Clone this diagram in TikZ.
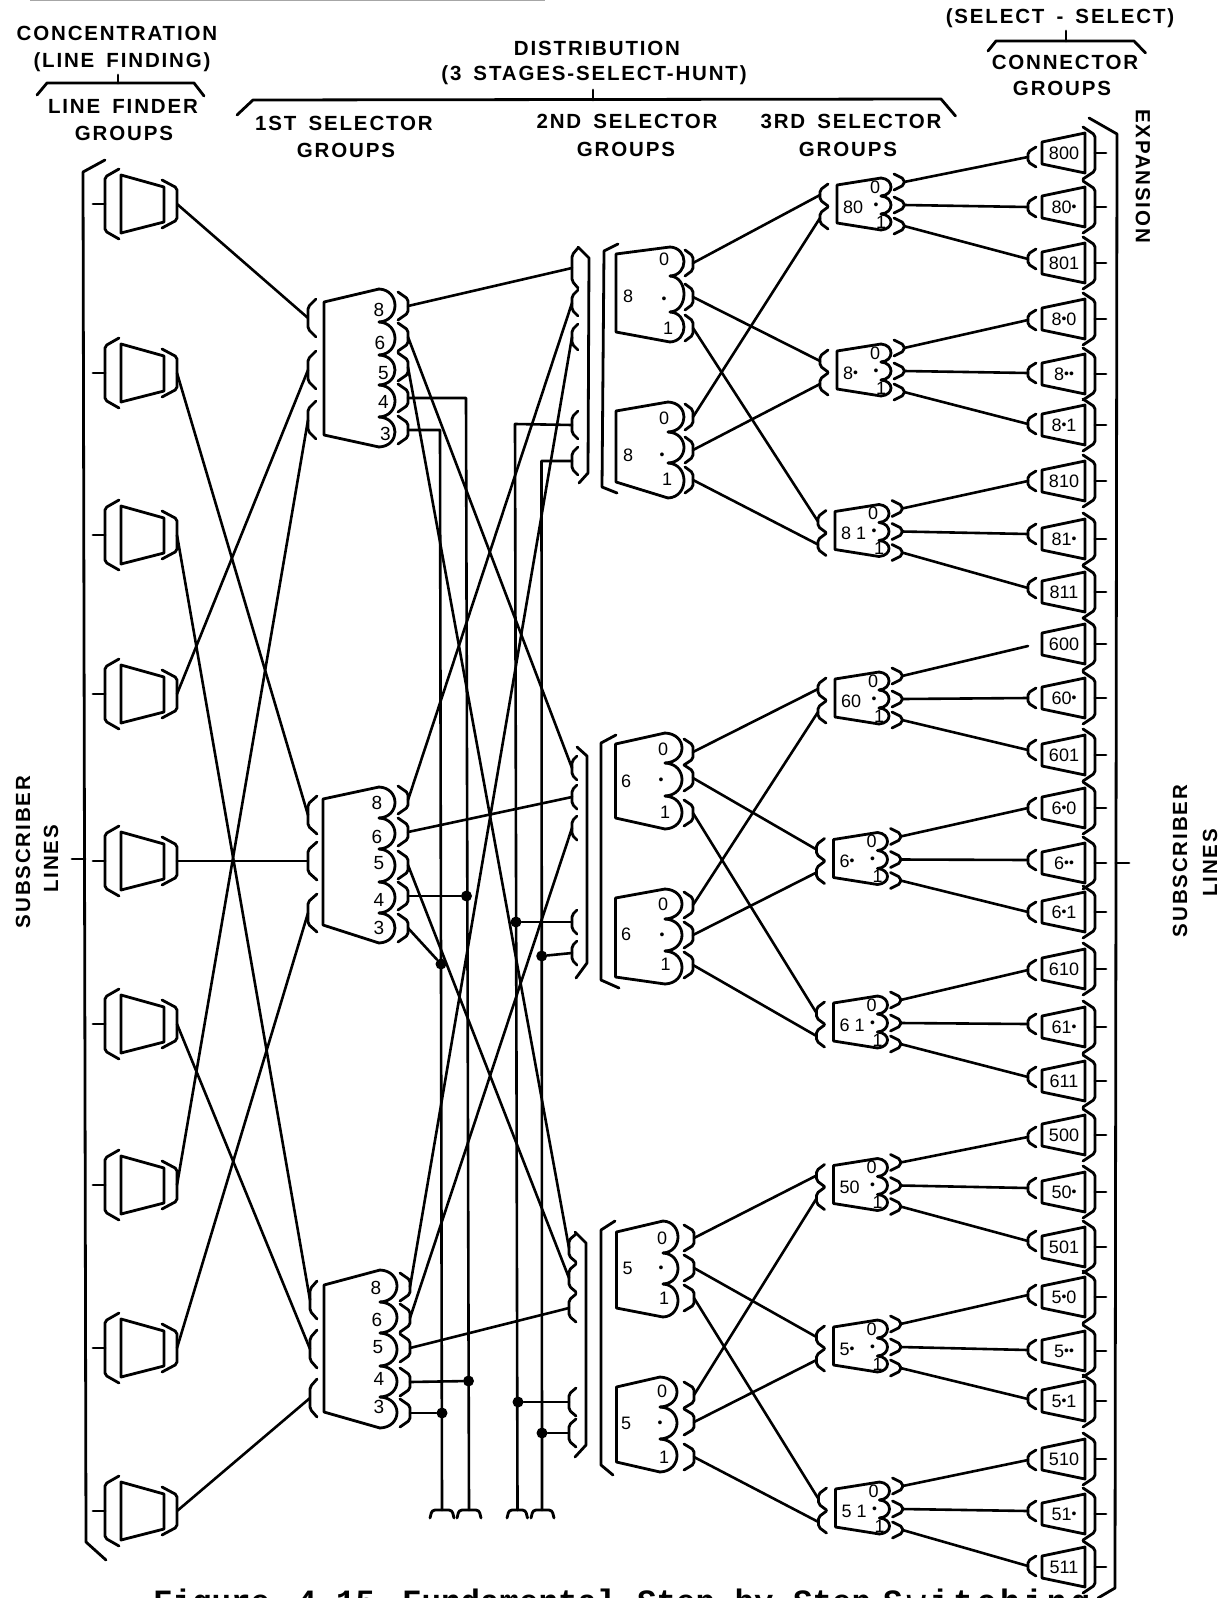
\documentclass[tikz,border=0pt]{standalone}
\usepackage{fontspec}
\setmainfont{Liberation Sans}
\newfontfamily\hdrf{Liberation Sans}[LetterSpace=9,WordSpace=1.6]
\newfontfamily\capf{Liberation Mono}
\newfontfamily\capw{Liberation Mono}[LetterSpace=12]
\newcommand\dt{\raisebox{0.1em}{\fontsize{14}{14}\selectfont•}}
\tikzset{
  ln/.style={line width=2.8pt,line join=round,line cap=round},
  wire/.style={line width=2.6pt,line cap=round,line join=round},
  big/.style={line width=2.8pt,line join=round,line cap=round},
  hdr/.style={inner sep=0pt,font=\hdrf\bfseries\fontsize{20.5}{24}\selectfont},
  lbl/.style={inner sep=0pt,font=\fontsize{19}{20}\selectfont},
  lblm/.style={inner sep=0pt,font=\fontsize{18}{20}\selectfont},
  lblc/.style={inner sep=0pt,font=\fontsize{18}{20}\selectfont},
  capn/.style={inner sep=0pt,anchor=base west,font=\capf\bfseries\fontsize{32.5}{36}\selectfont},
  capm/.style={inner sep=0pt,anchor=base west,font=\capw\bfseries\fontsize{32.5}{36}\selectfont},
  jdot/.style={circle,fill=black,inner sep=0pt,minimum size=11pt}
}
% bracket: name, spine x, tip x, centre y, half height at tips, half height at spine
\newcommand\brk[6]{%
  \coordinate (#1) at (#2,#4);
  \draw[ln,rounded corners=2pt] (#3,#4-#5)--(#2,#4-#6)--(#2,#4+#6)--(#3,#4+#5);
}
% line finder group
\newcommand\LF[2]{%
  \draw[ln] (121,#2-29)--(164,#2-17)--(164,#2+18)--(121,#2+29)--cycle;
  \brk{#1-a}{105}{119}{#2}{35}{27}
  \brk{#1-o}{177}{162}{#2}{24}{16}
  \coordinate (#1-s) at (93,#2);
  \draw[ln] (#1-s)--(#1-a);
}
% scalloped selector body: left, tl, bl, cusp x, bulge x, ctop, cbot, list of arcs
\newcommand\Body[8]{%
  \draw[ln] (#4,#6)--(#1,#2)--(#1,#3)--(#4,#7);
  \foreach \a/\b in {#8}{%
    \draw[ln] (#4,\a) .. controls ({(#4)+1.333*((#5)-(#4))},\a+1) and ({(#4)+1.333*((#5)-(#4))},\b-1) .. (#4,\b);
  }%
}
% third selector: name, left, yc, label
\newcommand\Third[4]{%
  \Body{#2}{#3-19}{#3+19}{#2+44}{#2+54}{#3-26}{#3+26}{#3-26/#3-8,#3-8/#3+10,#3+10/#3+26}
  \brk{#1-o1}{#2+67}{#2+57}{#3-22}{8}{3}
  \brk{#1-o2}{#2+67}{#2+57}{#3+1}{8}{3}
  \brk{#1-o3}{#2+67}{#2+57}{#3+22}{8}{3}
  \brk{#1-i1}{#2-17}{#2-9}{#3-9}{11}{5}
  \brk{#1-i2}{#2-17}{#2-9}{#3+14}{11}{5}
  \node[lblm,anchor=west] (#1-t) at (#2+6,#3+3) {#4};
  \node[lblm] (#1-t0) at (#2+38,#3-17) {0};
  \node[lblm] (#1-td) at (#2+39,#3+3) {\dt};
  \node[lblm] (#1-t1) at (#2+44,#3+18) {1};
}
% connector group: name, yc, label
\newcommand\ConnBody[3]{%
  \draw[ln] (1042,#2-11)--(1085,#2-20)--(1085,#2+20)--(1042,#2+11)--cycle;
  \node[lblc] (#1-t) at (1064,#2) {#3};
  \brk{#1-r}{1095}{1083}{#2}{26}{18}
  \coordinate (#1-s) at (1106,#2);
  \draw[ln] (#1-r)--(#1-s);
}
% name, yc, label, offset of the input bracket
\newcommand\Conn[4]{%
  \ConnBody{#1}{#2}{#3}
  \brk{#1-i}{1028}{1036}{#2+#4}{10}{5}
}
\begin{document}
\begin{tikzpicture}[x=1pt,y=-1pt]
\useasboundingbox (0,0) rectangle (1230,1598);
\clip (0,0) rectangle (1230,1598);
\fill[white] (0,0) rectangle (1230,1598);
% scan remnant at the top edge
\draw[line width=1.5pt,gray!70] (30,0.5)--(545,0.5);

% ---------- headings ----------
\node[hdr] (h1) at (117,33) {CONCENTRATION};
\node[hdr] (h2) at (122,62) {(LINE FINDING)};
\node[hdr] (h3) at (123,106) {LINE FINDER};
\node[hdr] (h4) at (124,133) {GROUPS};
\node[hdr] (h5) at (597,48) {DISTRIBUTION};
\node[hdr] (h6) at (594,75) {(3 STAGES-SELECT-HUNT)};
\node[hdr] (h7) at (344,123) {1ST SELECTOR};
\node[hdr] (h8) at (346,150) {GROUPS};
\node[hdr] (h9) at (627,121) {2ND SELECTOR};
\node[hdr] (h10) at (626,149) {GROUPS};
\node[hdr] (h11) at (851,121) {3RD SELECTOR};
\node[hdr] (h12) at (848,149) {GROUPS};
\node[hdr] (h13) at (1060,18) {(SELECT - SELECT)};
\node[hdr] (h14) at (1065,62) {CONNECTOR};
\node[hdr] (h15) at (1062,88) {GROUPS};
\node[hdr,rotate=-90] (h16) at (1143,176) {EXPANSION};
\node[hdr,rotate=90] (h17) at (23,852) {SUBSCRIBER};
\node[hdr,rotate=90] (h18) at (51,859) {LINES};
\node[hdr,rotate=90] (h19) at (1180,861) {SUBSCRIBER};
\node[hdr,rotate=90] (h20) at (1210,863) {LINES};
\node[capn] (cap1) at (153,1612) {Figure};
\node[capn] (cap2) at (297,1612) {4.15.};
\node[capn] (cap3) at (402,1612) {Fundamental};
\node[capn] (cap4) at (637,1612) {Step-by-Step};
\node[capm] (cap5) at (883,1612) {Switching};

% heading brackets
\draw[big] (37,95)--(47,83)--(194,83)--(204,96);
\draw[big] (118,75)--(118,83);
\draw[big] (237,115)--(253,100)--(941,99)--(955.5,116);
\draw[big] (593,90)--(593,100);
\draw[big] (988,51)--(996,41)--(1134,41)--(1145.5,53);
\draw[big] (1066,31)--(1066,41);
% outer brackets
\draw[big] (105,160)--(83,172)--(86,1542)--(106,1560);
\draw[big] (1089,118)--(1117,134)--(1115,1588)--(1098,1598);
\coordinate (subL) at (72,859);\coordinate (subLb) at (85,859);
\draw[big] (subL)--(subLb);
\coordinate (subR) at (1129,863);\coordinate (subRb) at (1116,863);
\draw[big] (subRb)--(subR);

% ---------- line finders ----------
\LF{lf1}{204}\LF{lf2}{373}\LF{lf3}{535}\LF{lf4}{694}\LF{lf5}{861}\LF{lf6}{1024}\LF{lf7}{1185}\LF{lf8}{1348}\LF{lf9}{1511}

% ---------- first selectors ----------
\Body{324}{302}{435}{379}{395}{289}{447}{289/322,322/355,355/385,385/417,417/447}
\foreach \n/\y in {8/306,6/337,5/367,4/398,3/430}{\brk{sa-\n}{408}{398}{\y}{14}{7}}
\foreach \n/\x/\y in {8/379/310,6/380/343,5/383.5/373,4/383.5/402,3/385.5/434}{\node[lbl] (sa-t\n) at (\x,\y) {\n};}
\foreach \n/\y in {1/318,2/370,3/420}{\brk{sa-i\n}{308}{316}{\y}{19}{11}}

\Body{323}{799}{925}{379}{395}{787}{943}{787/818,818/849,849/882,882/913,913/943}
\foreach \n/\y in {8/800,6/832,5/865,4/896,3/928}{\brk{sb-\n}{408}{398}{\y}{14}{7}}
\foreach \n/\x/\y in {8/377/803,6/377/837,5/379/863,4/379/900,3/379/928}{\node[lbl] (sb-t\n) at (\x,\y) {\n};}
\foreach \n/\y in {1/815,2/861,3/913}{\brk{sb-i\n}{308}{317}{\y}{19}{11}}

\Body{324}{1285}{1412}{380}{397}{1270}{1428}{1270/1302,1302/1333,1333/1366,1366/1397,1397/1428}
\foreach \n/\y in {8/1287,6/1318,5/1348,4/1382,3/1413}{\brk{sc-\n}{410}{400}{\y}{14}{7}}
\foreach \n/\x/\y in {8/376/1288,6/377/1320,5/378/1347,4/379/1379,3/379/1407}{\node[lbl] (sc-t\n) at (\x,\y) {\n};}
\foreach \n/\y in {1/1300,2/1349,3/1398}{\brk{sc-i\n}{310}{317}{\y}{19}{11}}

% ---------- second selector brackets ----------
\draw[big] (578,247)--(589,258)--(588,473)--(579,483);
\draw[big] (618,244)--(604,251)--(602,487)--(617,493);
\foreach \n/\y/\a/\b in {1/268/20/13,2/303/13/7,3/337/13/7,4/425/14/8,5/461/14/8}{\brk{g8-\n}{572}{578}{\y}{\a}{\b}}
\draw[big] (577,747)--(587,756)--(587,963)--(576,978);
\draw[big] (616,735)--(601,743)--(601,980)--(619,988);
\foreach \n/\y in {1/768,2/797,3/828,4/922,5/953}{\brk{g6-\n}{572}{577}{\y}{12}{7}}
\draw[big] (575,1232)--(586,1243)--(586,1445)--(575,1457);
\draw[big] (615,1221)--(601,1230)--(601,1465)--(613,1475);
\foreach \n/\y in {1/1248,2/1278,3/1308,4/1402,5/1433}{\brk{g5-\n}{569}{576}{\y}{14}{8}}

% ---------- second selectors ----------
\Body{616}{254}{332}{670}{684}{247}{342}{247/276,276/312,312/342}
\foreach \n/\y in {1/263,2/297,3/328}{\brk{b8a-\n}{693}{685}{\y}{13}{7}}
\node[lblm] (b8a-t) at (628,296) {8};\node[lblm] (b8a-t0) at (664,259) {0};\node[lblm] (b8a-td) at (664,301) {\dt};\node[lblm] (b8a-t1) at (668,328) {1};

\Body{616}{411}{482}{668}{684}{402}{498}{402/432,432/463,463/498}
\foreach \n/\y in {1/417,2/450,3/480}{\brk{b8b-\n}{693}{685}{\y}{13}{7}}
\node[lblm] (b8b-t) at (628,455) {8};\node[lblm] (b8b-t0) at (664,418) {0};\node[lblm] (b8b-td) at (662,457) {\dt};\node[lblm] (b8b-t1) at (667,479) {1};

\Body{615.5}{744}{818}{665}{682}{733}{829}{733/763,763/796,796/829}
\foreach \n/\y in {1/752,2/778,3/813}{\brk{b6a-\n}{693}{684}{\y}{13}{7}}
\node[lblm] (b6a-t) at (626,781) {6};\node[lblm] (b6a-t0) at (663,749) {0};\node[lblm] (b6a-td) at (661,782) {\dt};\node[lblm] (b6a-t1) at (665,812) {1};

\Body{615.5}{898}{977}{665}{682}{889}{984}{889/919,919/951,951/984}
\foreach \n/\y in {1/905,2/935,3/965}{\brk{b6b-\n}{693}{684}{\y}{13}{7}}
\node[lblm] (b6b-t) at (626,934) {6};\node[lblm] (b6b-t0) at (663,904) {0};\node[lblm] (b6b-td) at (662,937) {\dt};\node[lblm] (b6b-t1) at (665.5,964) {1};

\Body{616.4}{1232}{1308}{663}{678}{1221}{1317}{1221/1253,1253/1284,1284/1317}
\foreach \n/\y in {1/1238,2/1268,3/1298}{\brk{b5a-\n}{694}{684}{\y}{13}{7}}
\node[lblm] (b5a-t) at (627.5,1268) {5};\node[lblm] (b5a-t0) at (662,1238) {0};\node[lblm] (b5a-td) at (661,1270) {\dt};\node[lblm] (b5a-t1) at (664,1298) {1};

\Body{616.4}{1387}{1462}{660}{677}{1377}{1472}{1377/1407,1407/1439,1439/1472}
\foreach \n/\y in {1/1395,2/1422,3/1457}{\brk{b5b-\n}{694}{684}{\y}{13}{7}}
\node[lblm] (b5b-t) at (626,1423) {5};\node[lblm] (b5b-t0) at (662,1391) {0};\node[lblm] (b5b-td) at (660,1425) {\dt};\node[lblm] (b5b-t1) at (664,1457) {1};

% ---------- third selectors ----------
\Third{t80}{837}{204}{80}
\Third{t8d}{837}{370}{8\dt}
\Third{t81}{835}{530.5}{8 1}
\Third{t60}{835}{698}{60}
\Third{t6d}{833.5}{858.5}{6\dt}
\Third{t61}{833.5}{1022}{6 1}
\Third{t50}{833.5}{1184.5}{50}
\Third{t5d}{833.5}{1346}{5\dt}
\Third{t51}{835.5}{1508}{5 1}

% ---------- connector groups ----------
\Conn{c1}{153}{800}{4}\Conn{c2}{207}{80\dt}{0}\Conn{c3}{263}{801}{-4}
\Conn{c4}{319}{8\dt0}{1}\Conn{c5}{374}{8\dt\dt}{-1}\Conn{c6}{425}{8\dt1}{-1}
\Conn{c7}{481}{810}{0}\Conn{c8}{539}{81\dt}{-5}\Conn{c9}{592}{811}{-4}
\ConnBody{c10}{644}{600}\coordinate (c10-i) at (1028,646);
\Conn{c11}{698}{60\dt}{0}\Conn{c12}{755}{601}{-5}
\Conn{c13}{808}{6\dt0}{0}\Conn{c14}{863}{6\dt\dt}{-3}\Conn{c15}{912}{6\dt1}{0}
\Conn{c16}{969}{610}{1}\Conn{c17}{1027}{61\dt}{-3}\Conn{c18}{1081}{611}{-4}
\Conn{c19}{1135}{500}{2}\Conn{c20}{1192}{50\dt}{-4}\Conn{c21}{1247}{501}{-6}
\Conn{c22}{1297}{5\dt0}{-2}\Conn{c23}{1351}{5\dt\dt}{-1}\Conn{c24}{1401}{5\dt1}{-2}
\Conn{c25}{1459}{510}{1}\Conn{c26}{1514}{51\dt}{-3}\Conn{c27}{1567}{511}{-1}

% ---------- connectors ----------
\foreach \a/\b in {lf1-o/sa-i1,lf2-o/sb-i1,lf3-o/sc-i1,lf4-o/sa-i2,lf5-o/sb-i2,lf6-o/sc-i2,lf7-o/sa-i3,lf8-o/sb-i3,lf9-o/sc-i3,
  sa-8/g8-1,sa-6/g6-1,sa-5/g5-1,sb-8/g8-2,sb-6/g6-2,sb-5/g5-2,sc-8/g8-3,sc-6/g6-3,sc-5/g5-3,
  b8a-1/t80-i1,b8a-2/t8d-i1,b8a-3/t81-i1,b8b-1/t80-i2,b8b-2/t8d-i2,b8b-3/t81-i2,
  b6a-1/t60-i1,b6a-2/t6d-i1,b6a-3/t61-i1,b6b-1/t60-i2,b6b-2/t6d-i2,b6b-3/t61-i2,
  b5a-1/t50-i1,b5a-2/t5d-i1,b5a-3/t51-i1,b5b-1/t50-i2,b5b-2/t5d-i2,b5b-3/t51-i2,
  t80-o1/c1-i,t80-o2/c2-i,t80-o3/c3-i,t8d-o1/c4-i,t8d-o2/c5-i,t8d-o3/c6-i,t81-o1/c7-i,t81-o2/c8-i,t81-o3/c9-i,
  t60-o1/c10-i,t60-o2/c11-i,t60-o3/c12-i,t6d-o1/c13-i,t6d-o2/c14-i,t6d-o3/c15-i,t61-o1/c16-i,t61-o2/c17-i,t61-o3/c18-i,
  t50-o1/c19-i,t50-o2/c20-i,t50-o3/c21-i,t5d-o1/c22-i,t5d-o2/c23-i,t5d-o3/c24-i,t51-o1/c25-i,t51-o2/c26-i,t51-o3/c27-i}{
  \draw[wire] (\a)--(\b);
}
% hunting buses
\coordinate (v1t) at (440,430);\coordinate (v1b) at (442,1510);
\coordinate (v2t) at (466,398);\coordinate (v2b) at (469,1510);
\coordinate (v3t) at (515,424);\coordinate (v3b) at (517.5,1510);
\coordinate (v4t) at (541.5,461);\coordinate (v4b) at (542,1510);
\draw[wire] (sa-3)--(v1t)--(v1b);
\draw[wire] (sa-4)--(v2t)--(v2b);
\draw[wire] (g8-4)--(v3t)--(v3b);
\draw[wire] (g8-5)--(v4t)--(v4b);
\node[jdot] (d1) at (441,964) {};
\node[jdot] (d2) at (466.5,896) {};
\node[jdot] (d3) at (442,1413) {};
\node[jdot] (d4) at (468.5,1381) {};
\node[jdot] (d5) at (516,922) {};
\node[jdot] (d6) at (541.7,956) {};
\node[jdot] (d7) at (518,1402) {};
\node[jdot] (d8) at (542,1433) {};
\draw[wire] (sb-3)--(d1);\draw[wire] (sb-4)--(d2);\draw[wire] (sc-3)--(d3);\draw[wire] (sc-4)--(d4);
\draw[wire] (g6-4)--(d5);\draw[wire] (g6-5)--(d6);\draw[wire] (g5-4)--(d7);\draw[wire] (g5-5)--(d8);
% bus end caps
\foreach \l/\r in {430/454,457/481,507/527.5,531/554}{
  \draw[ln,rounded corners=3pt] (\l,1518)--(\l+2,1510)--(\r-2,1510)--(\r,1518);
}
\end{tikzpicture}
\end{document}
